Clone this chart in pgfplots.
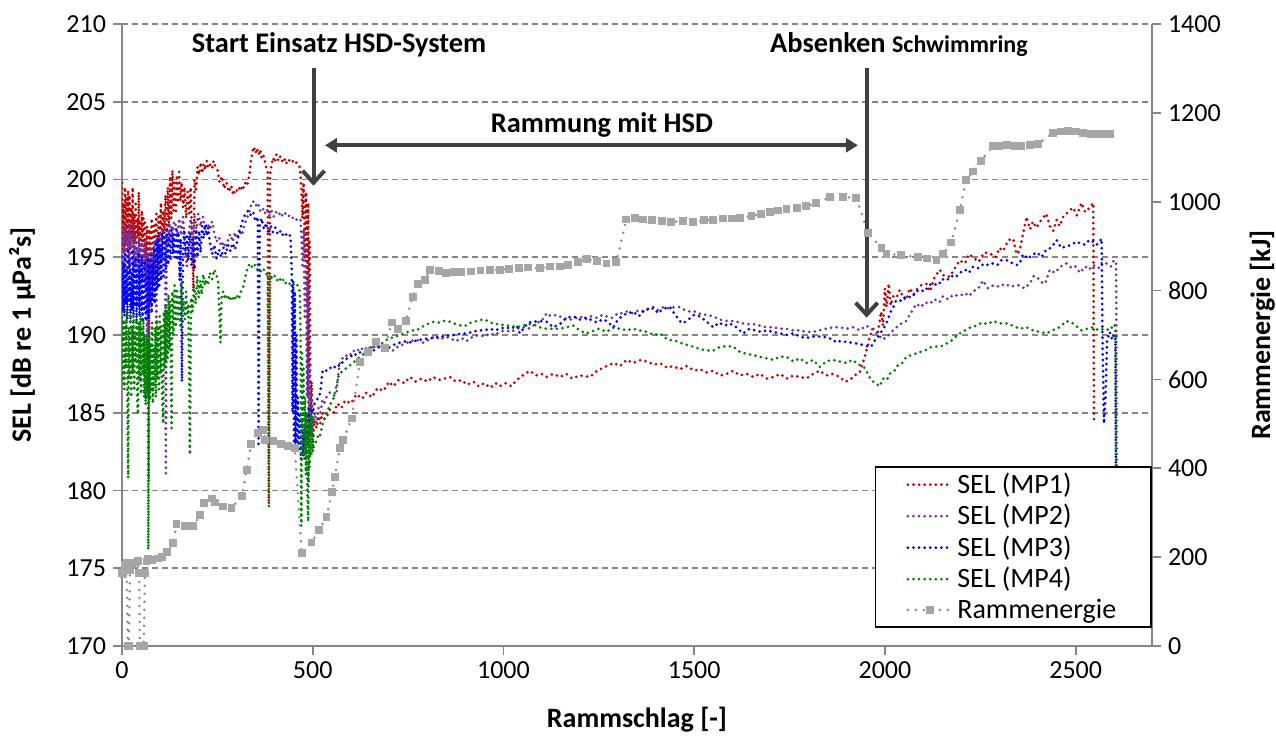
\documentclass[border=0pt]{standalone}
\usepackage{fontspec}
\setmainfont{Carlito}
\usepackage{pgfplots}
\pgfplotsset{compat=1.18}
\usetikzlibrary{arrows.meta}

\definecolor{mpred}{RGB}{192,0,0}
\definecolor{mppurple}{RGB}{112,48,160}
\definecolor{mpblue}{RGB}{0,0,255}
\definecolor{mpgreen}{RGB}{0,128,0}
\definecolor{egray}{RGB}{140,140,140}
\definecolor{esq}{RGB}{166,166,166}
\definecolor{axgray}{RGB}{134,134,134}
\definecolor{arr}{RGB}{64,64,64}

\tikzset{lab/.style={font=\fontsize{14}{16}\selectfont\bfseries, anchor=center}}

\pgfplotsset{
  sel/.style={line width=1.5pt, dash pattern=on 0pt off 2.8pt, line cap=round, no markers},
  energie/.style={draw=egray, line width=1.4pt, dash pattern=on 0pt off 4pt, line cap=round,
    mark=square*, mark size=1.25pt, mark options={solid, draw=esq, fill=esq}},
  common/.style={
    at={(0,0)}, anchor=south west,
    scale only axis, width=515pt, height=311pt,
    xmin=0, xmax=2700,
    axis line style={draw=axgray, line width=0.9pt},
    tick style={draw=axgray, line width=0.9pt},
    major tick length=4.5pt, tick align=outside,
    tick label style={font=\fontsize{13}{15}\selectfont},
    /pgf/number format/assume math mode=true,
    /pgf/number format/1000 sep={},
  },
}

\begin{document}
\begin{tikzpicture}

% left axis: SEL
\begin{axis}[common, name=main,
  ymin=170, ymax=210,
  xtick={0,500,...,2500}, ytick={170,175,...,210},
  axis x line*=bottom, axis y line*=left,
  ymajorgrids, grid style={draw=axgray, line width=0.8pt, dash pattern=on 3pt off 2pt},
  xlabel={Rammschlag [-]}, ylabel={SEL [dB re 1 µPa²s]},
  every axis x label/.style={lab, at={(axis description cs:0.5,-0.119)}},
  every axis y label/.style={lab, at={(axis description cs:-0.097,0.5)}, rotate=90},
]

% MP1
\addplot[sel, mpred] coordinates {
(0,199.8)(2,195.5)(4,198.5)(6,195.2)(8,199.5)(10,196)(12,198.8)(14,195.3)(16,199.3)(18,196.5)(20,199)(22,195.5)
(24,198.2)(26,196.2)(28,199.5)(30,195.6)(32,197.8)(34,196)(36,198.6)(38,195.2)(40,197.5)(42,196.3)(44,199.2)
(46,195.8)(48,197.2)(50,195.4)(52,198)(54,196)(56,197.5)(58,195.2)(60,197.4)(63,194.8)(66,197)(69,195)(70,186)
(72,196.8)(75,194.6)(78,197.5)(81,195.2)(84,197.2)(87,195.8)(90,197.8)(93,195)(96,197.6)(99,196)(102,198.5)
(105,195.5)(108,198)(111,196.5)(114,199)(117,196)(120,199.5)(123,197)(126,200.2)(129,197.5)(132,200.6)(135,198)
(138,199.8)(141,197.8)(144,200.3)(147,198.5)(150,200.5)(153,198.6)(156,199.8)(160,198.2)(164,199.5)(168,197.5)
(172,199.2)(176,197.8)(180,199.5)(184,196)(187,192.8)(190,200)(194,199.2)(198,200.8)(202,200.3)(206,201.1)
(210,200.4)(214,201)(218,200.6)(222,201.2)(226,200.8)(230,201)(236,200.7)(240,201.2)(244,200.9)(250,200.6)
(256,199.8)(262,200.2)(268,199.4)(274,199.8)(280,199.2)(286,199.6)(292,199.0)(298,199.4)(304,199.2)(310,199.6)
(316,199.3)(322,199.8)(328,199.6)(334,200.3)(338,201.2)(342,201.8)(346,202.1)(350,201.7)(354,202.0)(358,201.6)
(362,201.9)(366,201.4)(370,201.6)(374,201.2)(378,200.8)(382,200.5)(385,179.2)(388,200.2)(392,201.0)(396,201.4)
(400,201.1)(405,201.6)(410,201.2)(415,201.5)(420,201.2)(425,201.4)(430,201.0)(435,201.3)(440,201.2)(445,201.3)
(450,201.1)(455,201.2)(460,200.9)(466,200.8)(470,199.5)(473,197.5)(476,199.8)(479,195)(482,199.2)(485,192)
(488,198.5)(490,188)(492,196)(494,184)(497,187)(500,182.5)(504,184.5)(510,184.0)(515,184.8)(520,184.3)(525,185.0)
(530,184.6)(536,184.7)(545,185.2)(555,185.0)(565,185.6)(575,185.3)(585,185.8)(600,185.6)(615,186.2)(630,185.9)
(641,186.3)(655,186.0)(670,186.6)(685,186.4)(700,187.0)(711,186.7)(725,187.1)(740,186.9)(755,187.3)(770,187.0)
(785,187.2)(800,187.0)(816,187.3)(830,187.1)(845,187.2)(860,187.3)(875,187.0)(890,187.1)(905,186.8)(921,187.0)
(935,186.7)(950,186.9)(965,186.6)(980,186.9)(990,186.7)(1005,186.9)(1020,186.7)(1035,187.1)(1050,187.4)
(1069,187.7)(1085,187.4)(1100,187.5)(1113,187.3)(1130,187.5)(1148,187.3)(1165,187.5)(1180,187.2)(1200,187.4)
(1227,187.3)(1245,187.7)(1270,188.0)(1290,188.2)(1305,188.0)(1323,188.4)(1340,188.2)(1360,188.4)(1375,188.3)
(1395,188.1)(1410,188.2)(1428,187.9)(1445,188.0)(1462,187.8)(1480,188.0)(1500,187.7)(1515,187.8)(1532,187.6)
(1550,187.7)(1568,187.4)(1585,187.5)(1602,187.7)(1620,187.4)(1637,187.5)(1655,187.3)(1672,187.5)(1690,187.2)
(1707,187.3)(1725,187.5)(1742,187.2)(1760,187.4)(1777,187.3)(1794,187.2)(1812,187.5)(1829,187.7)(1846,187.4)
(1864,187.5)(1881,187.3)(1895,187.0)(1908,187.1)(1920,187.4)(1934,187.6)(1947,188.6)(1955,189.3)(1960,189.9)
(1970,190.4)(1982,190.2)(1990,191.5)(1995,190.6)(2000,193.0)(2004,191.8)(2010,193.3)(2015,191.9)(2022,192.5)
(2030,192.4)(2039,192.9)(2048,192.4)(2056,192.25)(2065,193.0)(2075,192.6)(2082,192.9)(2095,193.2)(2108,193.3)
(2118,192.8)(2128,193.6)(2143,194.2)(2155,193.8)(2170,193.75)(2183,194.3)(2196,194.8)(2210,194.6)(2220,195.2)
(2231,195.0)(2245,194.7)(2260,195.3)(2275,195.25)(2290,195.0)(2300,195.6)(2310,195.4)(2323,196.1)(2336,196.2)
(2345,195.2)(2353,195.4)(2362,196.5)(2371,197.6)(2380,196.8)(2388,197.3)(2397,196.9)(2410,197.4)(2423,197.8)
(2432,197.0)(2441,196.7)(2450,197.4)(2458,197.0)(2467,197.6)(2480,197.9)(2493,198.2)(2503,197.7)(2515,198.5)
(2525,197.9)(2537,198.2)(2546,198.5)(2548,184.5)
};

% MP2
\addplot[sel, mppurple] coordinates {
(0,196.5)(2,194.5)(4,196.8)(6,194.2)(8,197)(10,194.8)(12,196.2)(14,193.8)(16,196.6)(18,194.5)(20,197.2)(22,194.2)
(24,196)(26,194.6)(28,196.8)(30,194)(32,195.8)(34,194.4)(36,196.5)(38,193.8)(40,195.5)(42,194.6)(44,196.2)(46,194)
(48,195.8)(50,194.5)(52,196)(54,193.5)(56,195.6)(58,194.2)(60,195.9)(62,193)(64,195.4)(66,186)(68,195.2)(70,180.6)
(72,194.8)(74,192)(76,195.6)(78,193.2)(80,195)(82,194)(84,196)(86,193.5)(88,195.2)(90,189)(92,195.5)(96,195.8)
(98,194)(100,196.5)(103,194.8)(106,196.8)(110,196.8)(113,195.2)(115,181.1)(117,196.5)(121,195.8)(124,197.2)
(127,196)(130,197)(133,195.8)(136,197.3)(140,197.2)(145,196.3)(150,197.5)(155,196.4)(160,197.6)(165,195.8)
(170,194.4)(175,196.5)(180,197.5)(185,196.2)(190,197.6)(195,196.8)(200,197.8)(206,197.0)(212,197.6)(218,196.8)
(224,197.2)(230,196.8)(236,197.3)(242,196.5)(248,196.0)(254,196.3)(260,195.7)(266,196.0)(272,195.6)(278,196.1)
(284,196.5)(290,196.0)(296,196.6)(302,196.2)(308,196.8)(314,196.4)(320,197.0)(326,197.4)(332,197.8)(338,198.3)
(344,198.6)(350,198.3)(356,198.5)(362,198.0)(368,198.2)(374,197.8)(380,198.1)(386,197.7)(392,198.0)(398,197.6)
(404,197.9)(410,197.7)(416,197.9)(422,197.6)(428,197.8)(434,197.6)(440,197.7)(446,197.5)(452,197.6)(458,197.4)
(464,197.5)(468,197.4)(470,196.5)(473,194.5)(476,196.8)(479,191)(482,195.5)(485,186)(487,193.5)(489,180.5)
(491,188)(494,183.5)(497,186.5)(500,183.9)(505,185.0)(510,184.3)(515,185.3)(520,185.0)(525,185.8)(530,185.6)
(536,186.0)(545,186.3)(555,186.1)(562,186.2)(567,187.5)(571,188.2)(575,188.4)(585,188.7)(595,188.6)(605,189.0)
(615,188.9)(624,189.2)(635,189.0)(645,189.3)(655,189.1)(665,189.3)(676,189.2)(690,189.0)(700,189.2)(711,189.0)
(725,189.3)(740,189.4)(755,189.6)(772,189.7)(790,189.5)(805,189.7)(820,189.9)(835,189.7)(848,189.9)(860,189.8)
(875,189.6)(890,189.8)(903,189.6)(920,189.9)(935,190.0)(950,189.9)(965,190.1)(978,190.0)(990,190.2)(1005,190.3)
(1020,190.2)(1035,190.4)(1050,190.5)(1065,190.4)(1078,190.6)(1090,190.8)(1100,190.9)(1113,191.4)(1125,191.2)
(1140,191.3)(1155,191.1)(1170,191.0)(1183,191.0)(1200,191.2)(1215,191.0)(1230,191.2)(1245,191.1)(1260,191.3)
(1270,191.2)(1285,191.1)(1300,191.4)(1310,191.4)(1323,191.5)(1340,191.4)(1355,191.6)(1370,191.5)(1380,191.7)
(1392,191.7)(1405,191.6)(1420,191.8)(1435,191.7)(1450,191.8)(1462,191.8)(1475,191.6)(1490,191.5)(1505,191.5)
(1520,191.3)(1532,191.3)(1550,191.2)(1565,191.0)(1585,190.9)(1602,190.9)(1620,190.8)(1637,190.7)(1655,190.7)
(1672,190.6)(1690,190.5)(1707,190.5)(1725,190.4)(1742,190.4)(1760,190.3)(1777,190.3)(1794,190.2)(1812,190.2)
(1829,190.3)(1846,190.4)(1864,190.5)(1881,190.5)(1899,190.4)(1917,190.5)(1934,190.3)(1950,190.6)(1960,190.5)
(1975,190.2)(1995,189.7)(2010,190.0)(2021,190.3)(2035,190.6)(2047,190.8)(2056,190.9)(2065,191.3)(2075,191.7)
(2082,192.0)(2095,191.8)(2105,192.1)(2117,192.0)(2130,192.3)(2143,192.1)(2152,192.5)(2165,192.3)(2180,192.6)
(2196,192.5)(2210,192.7)(2220,192.5)(2231,192.8)(2245,193.0)(2257,193.5)(2270,193.0)(2285,193.2)(2301,193.1)
(2315,193.3)(2330,193.1)(2345,193.2)(2353,193.2)(2365,193.0)(2380,193.3)(2390,193.8)(2397,193.75)(2410,193.4)
(2420,193.3)(2432,194.2)(2445,194.0)(2460,194.4)(2476,194.6)(2490,194.3)(2500,194.4)(2511,194.0)(2525,194.4)
(2535,194.2)(2546,194.5)(2560,194.3)(2570,194.7)(2580,194.6)(2592,194.4)(2600,194.8)(2606,194.7)(2608,178)
};

% MP3
\addplot[sel, mpblue] coordinates {
(0,195)(2,191.5)(4,194.6)(6,191.2)(8,195.2)(10,192)(12,194.2)(14,191)(16,195.4)(18,192.2)(20,194.8)(22,190.8)
(24,194)(26,191.6)(28,195.5)(30,191.3)(32,194.5)(34,192)(36,195)(38,190.9)(40,194.2)(42,191.8)(44,195.3)(46,191.2)
(48,194.5)(50,191.6)(52,195.1)(54,190.8)(56,194)(58,191.5)(60,194.8)(62,190.9)(64,193.8)(66,191.5)(68,195)(70,191)
(72,194.5)(74,192)(76,195.3)(78,191.4)(80,194.6)(82,192.2)(84,195.6)(86,192)(88,196)(90,192.8)(92,196.2)(94,193)
(96,196.4)(98,193.2)(100,195.8)(103,193.5)(106,196.6)(109,193.8)(112,196.3)(115,194.2)(118,196.8)(121,194.5)
(124,196.5)(127,194.8)(130,196.9)(133,195.2)(136,196.5)(139,195.0)(142,196.8)(145,194.8)(148,196.6)(151,193.5)
(154,196.2)(157,187.0)(160,195.5)(163,196.8)(166,195.2)(170,196.5)(174,194.8)(178,196.6)(182,194.5)(186,196.2)
(190,194.2)(194,196.8)(198,195.0)(202,196.7)(206,195.3)(210,197.0)(214,196.2)(218,197.1)(222,196.4)(226,196.9)
(230,196.0)(236,195.2)(242,195.8)(248,194.9)(254,195.5)(260,195.0)(266,195.6)(272,195.2)(278,195.8)(284,195.4)
(290,195.9)(296,195.5)(302,196.0)(308,196.6)(314,197.2)(320,197.6)(326,197.9)(332,198.0)(338,197.7)(344,197.9)
(350,197.3)(356,197.6)(358,183.0)(361,197.0)(366,197.5)(372,196.8)(378,197.2)(384,196.5)(390,197.0)(396,196.6)
(402,196.9)(408,196.5)(414,196.7)(420,196.4)(426,196.6)(432,196.4)(438,196.5)(442,196.3)(445,194)(447,185)
(449,193.5)(451,183)(453,192.8)(455,182.5)(457,190)(459,183)(461,186)(463,182.5)(466,185)(469,182)(472,184.5)
(475,182.2)(478,184)(481,182.5)(484,185)(487,183)(490,185.4)(493,184.0)(496,185.2)(500,185.0)(505,185.6)
(510,185.8)(515,186.0)(520,186.3)(525,187.6)(530,187.8)(536,187.7)(545,187.9)(553,187.8)(562,188.1)(571,188.0)
(580,188.3)(590,188.5)(600,188.6)(606,188.8)(615,188.7)(625,188.9)(635,188.8)(645,189.1)(659,189.0)(670,189.2)
(685,189.3)(700,189.2)(715,189.4)(728,189.5)(745,189.6)(760,189.5)(775,189.7)(790,189.7)(803,189.8)(816,189.8)
(830,189.9)(845,189.9)(860,190.0)(875,190.0)(890,190.1)(903,190.1)(920,190.2)(935,190.3)(950,190.3)(965,190.4)
(978,190.3)(990,190.4)(1005,190.5)(1020,190.4)(1035,190.6)(1043,190.1)(1055,190.5)(1065,190.8)(1078,190.85)
(1095,190.9)(1113,190.85)(1130,190.5)(1148,190.7)(1165,191.1)(1183,191.2)(1200,191.0)(1215,191.1)(1227,191.0)
(1245,190.8)(1260,191.0)(1270,190.9)(1288,190.5)(1300,191.0)(1315,191.3)(1340,191.5)(1355,191.2)(1370,191.6)
(1392,191.8)(1405,191.4)(1420,191.7)(1436,191.8)(1450,191.3)(1462,190.9)(1471,190.75)(1485,191.0)(1500,191.3)
(1515,191.2)(1530,190.9)(1550,190.5)(1565,190.8)(1580,190.6)(1593,190.75)(1610,190.5)(1628,190.1)(1645,190.4)
(1660,190.3)(1675,190.2)(1690,190.3)(1707,190.2)(1725,190.1)(1742,190.0)(1760,190.1)(1777,189.9)(1794,189.8)
(1810,189.9)(1829,189.9)(1846,189.85)(1864,189.7)(1873,189.5)(1881,189.6)(1900,189.55)(1917,189.5)(1935,189.4)
(1950,189.3)(1964,189.25)(1972,189.6)(1982,189.9)(1993,190.3)(2004,190.75)(2015,191.5)(2022,191.8)(2030,192.25)
(2043,192.2)(2056,192.5)(2070,192.4)(2082,192.8)(2091,192.9)(2105,192.8)(2115,193.2)(2126,193.3)(2140,193.2)
(2150,193.6)(2161,193.5)(2175,193.8)(2185,193.7)(2196,194.0)(2210,194.2)(2220,194.0)(2231,194.4)(2245,194.3)
(2260,194.6)(2270,194.5)(2283,194.6)(2295,194.5)(2305,194.8)(2322,194.8)(2335,194.6)(2345,194.5)(2353,194.6)
(2362,195.2)(2375,194.9)(2388,195.2)(2400,195.3)(2410,195.0)(2423,195.5)(2435,195.6)(2450,196.1)(2462,195.6)
(2476,195.7)(2490,195.8)(2500,196.0)(2511,195.9)(2525,195.8)(2535,196.1)(2546,196.0)(2555,195.8)(2568,196.2)
(2570,190)(2574,184.3)(2578,186)(2582,189.6)(2589,190.2)(2596,189.7)(2600,190.0)(2604,189.9)(2606,178)
};

% MP4
\addplot[sel, mpgreen] coordinates {
(0,191.5)(2,187)(4,191)(6,186.5)(8,190.8)(10,188)(12,191.6)(14,186.2)(16,180.8)(18,190.5)(20,187.2)(22,191.2)
(24,186)(26,190.6)(28,187.5)(30,191.4)(32,186.4)(34,190.2)(36,188.2)(38,191)(40,185.6)(42,184.9)(44,190.8)(46,187)
(48,191.3)(50,186.2)(52,190.4)(54,187.6)(56,191)(58,186)(60,190)(62,185.5)(64,189.8)(66,186.3)(68,189.5)(69,176.2)
(71,190.2)(73,185.8)(75,189.5)(77,186.5)(79,190.8)(81,185.6)(83,189.2)(85,186.8)(87,190.5)(89,186)(91,191)
(93,187.2)(95,190.4)(97,186.5)(99,191.2)(101,187.5)(103,190.6)(105,186.2)(108,184.3)(110,191.5)(112,187.8)
(114,192.0)(116,188.2)(118,191.6)(120,188.5)(122,192.6)(124,189.0)(126,192.2)(128,188.5)(130,184.0)(132,192.8)
(135,190.0)(138,193.2)(141,190.5)(144,193.0)(147,191.0)(150,192.6)(153,190.6)(156,193.4)(159,191.2)(162,192.2)
(165,191.0)(168,192.8)(171,191.4)(174,192.0)(178,182.3)(181,192.4)(185,191.5)(189,193.2)(193,192.0)(197,193.8)
(201,192.4)(205,193.5)(209,192.6)(213,193.9)(217,193.2)(221,193.6)(225,193.2)(230,194.0)(236,193.6)(242,194.2)
(248,193.8)(252,193.4)(256,191.0)(258,189.5)(261,192.5)(265,192.8)(270,192.3)(276,192.6)(282,192.2)(288,192.5)
(294,192.2)(300,192.6)(306,192.3)(312,192.8)(318,193.1)(324,193.8)(330,194.4)(336,194.6)(342,194.3)(348,194.5)
(354,194.2)(360,194.3)(366,194.0)(372,194.2)(378,193.9)(382,194.0)(385,179.0)(388,193.9)(394,193.6)(400,193.8)
(406,193.5)(412,193.7)(418,193.4)(424,193.6)(430,193.3)(436,193.4)(442,193.2)(448,193.3)(454,193.1)(460,193.2)
(466,192.8)(468,190)(470,177.7)(472,189)(474,184)(476,188)(478,182)(480,186)(482,181)(484,185)(486,180)(488,178.0)
(490,184.5)(492,181.5)(494,185)(496,182.2)(498,184.8)(500,182.5)(505,183.0)(510,183.2)(515,183.6)(519,183.5)
(525,184.2)(530,184.5)(535,185.0)(540,185.2)(545,185.5)(553,185.8)(560,186.5)(566,187.2)(570,187.5)(580,187.7)
(590,187.9)(600,188.1)(610,188.3)(624,188.6)(635,188.8)(645,189.0)(655,189.2)(665,189.3)(675,189.4)(685,189.5)
(695,189.7)(705,189.8)(717,189.9)(728,190.0)(740,190.1)(750,190.2)(760,190.3)(772,190.3)(785,190.5)(800,190.7)
(816,190.85)(830,190.8)(845,190.9)(860,190.85)(875,190.7)(890,190.6)(903,190.6)(915,190.8)(930,190.9)(947,191.0)
(960,190.9)(975,190.7)(990,190.7)(1005,190.6)(1020,190.6)(1035,190.5)(1050,190.6)(1065,190.7)(1078,190.7)
(1095,190.5)(1113,190.4)(1130,190.4)(1148,190.4)(1165,190.5)(1183,190.6)(1200,190.3)(1215,190.1)(1230,190.2)
(1250,190.4)(1270,190.2)(1290,190.5)(1305,190.4)(1323,190.3)(1340,190.4)(1355,190.3)(1375,190.2)(1395,190.0)
(1410,190.1)(1430,189.7)(1453,189.6)(1475,189.4)(1497,189.25)(1515,189.1)(1532,189.0)(1550,189.0)(1565,189.2)
(1585,189.3)(1602,189.25)(1620,188.9)(1637,188.8)(1655,188.7)(1672,188.6)(1690,188.5)(1707,188.4)(1725,188.6)
(1742,188.6)(1760,188.3)(1777,188.5)(1794,188.2)(1812,188.4)(1829,187.95)(1846,188.3)(1864,188.4)(1881,188.3)
(1899,188.2)(1915,188.4)(1930,188.1)(1943,188.0)(1953,187.6)(1964,187.1)(1975,186.9)(1986,186.7)(1995,187.2)
(2005,187.1)(2012,187.5)(2025,187.7)(2035,188.1)(2045,188.2)(2056,188.6)(2070,188.7)(2080,188.8)(2091,188.9)
(2105,189.0)(2120,189.2)(2135,189.25)(2150,189.3)(2165,189.5)(2178,189.7)(2190,190.0)(2196,190.1)(2210,190.3)
(2225,190.5)(2240,190.6)(2255,190.8)(2270,190.7)(2283,190.9)(2300,190.75)(2318,190.75)(2335,190.6)(2353,190.4)
(2370,190.5)(2388,190.3)(2405,190.2)(2423,190.1)(2440,190.3)(2458,190.5)(2476,190.9)(2490,190.8)(2500,190.6)
(2515,190.3)(2530,190.4)(2546,190.5)(2560,190.3)(2575,190.4)(2590,190.3)(2600,190.7)(2604,190.5)(2606,178)
};
\end{axis}

% right axis: Rammenergie
\begin{axis}[common,
  ymin=0, ymax=1400, ytick={0,200,...,1400},
  axis x line=none, axis y line*=right,
  ylabel={Rammenergie [kJ]},
  every axis y label/.style={lab, at={(axis description cs:1.107,0.5)}, rotate=90},
  legend style={at={(axis description cs:1,0.029)}, anchor=south east, draw=black, line width=0.8pt,
    fill=white, font=\fontsize{14}{16}\selectfont, inner xsep=15.5pt, inner ysep=1pt, row sep=0pt},
  legend cell align=left,
  legend image code/.code={\draw[mark repeat=2, mark phase=2, #1] plot coordinates {(0pt,0pt) (11pt,0pt) (22pt,0pt)};},
]
\addlegendimage{sel, mpred}\addlegendentry{SEL (MP1)}
\addlegendimage{sel, mppurple}\addlegendentry{SEL (MP2)}
\addlegendimage{sel, mpblue}\addlegendentry{SEL (MP3)}
\addlegendimage{sel, mpgreen}\addlegendentry{SEL (MP4)}

\addplot[energie] coordinates {
(0,165)(4,162)(8,183)(12,186)(15,0)(18,0)(21,170)(26,186)(34,188)(41,192)(45,165)(47,0)(57,0)(60,165)(64,190)
(69,197)(80,193)(95,197)(105,200)(117,212)(134,231)(143,275)(165,270)(187,270)(204,295)(216,321)(235,332)
(244,323)(264,314)(287,310)(314,338)(327,396)(338,454)(357,480)(370,486)(375,464)(397,462)(416,455)(436,450)
(453,445)(471,209)(497,233)(516,261)(536,290)(550,347)(558,381)(571,445)(580,464)(602,512)(624,640)(645,662)
(666,685)(689,670)(707,728)(724,713)(744,732)(762,786)(776,815)(794,824)(807,846)(830,844)(850,840)(870,842)
(890,841)(915,843)(940,845)(965,846)(990,847)(1015,849)(1040,850)(1065,852)(1095,850)(1122,854)(1148,854)
(1170,858)(1195,864)(1218,871)(1245,866)(1270,861)(1296,865)(1322,960)(1344,964)(1365,960)(1390,958)(1415,957)
(1440,955)(1470,956)(1497,955)(1525,958)(1550,959)(1575,962)(1600,962)(1620,964)(1650,968)(1675,972)(1698,976)
(1720,980)(1742,983)(1770,986)(1794,990)(1820,997)(1855,1010)(1890,1011)(1925,1008)(1956,929)(1991,895)
(2004,882)(2043,880)(2087,875)(2110,872)(2135,869)(2152,882)(2174,908)(2196,981)(2213,1049)(2231,1068)
(2251,1092)(2283,1126)(2300,1126)(2320,1127)(2340,1126)(2358,1126)(2380,1128)(2401,1130)(2441,1155)(2460,1158)
(2480,1160)(2500,1158)(2519,1155)(2540,1153)(2558,1152)(2575,1152)(2589,1152)
};
\addlegendentry{Rammenergie}

% annotations
\draw[arr, line width=2pt, -{Straight Barb[length=6pt, width=11pt]}] (axis cs:502,1302) -- (axis cs:502,1036);
\draw[arr, line width=2pt, -{Straight Barb[length=6pt, width=11pt]}] (axis cs:1952,1302) -- (axis cs:1952,739);
\draw[arr, line width=1.8pt, {Triangle[length=6pt, width=7pt]}-{Triangle[length=6pt, width=7pt]}]
  (axis cs:532,1127) -- (axis cs:1929,1127);
\node[font=\fontsize{14.2}{16}\selectfont\bfseries] at (axis cs:569,1354) {Start Einsatz HSD-System};
\node[font=\fontsize{14.2}{16}\selectfont\bfseries] at (axis cs:1258,1172) {Rammung mit HSD};
\node[anchor=west, font=\fontsize{14.2}{16}\selectfont\bfseries, inner sep=0pt] at (axis cs:1698,1354)
  {Absenken {\fontsize{12}{14}\selectfont Schwimmring}};
\end{axis}

\pgfresetboundingbox
\useasboundingbox (main.south west) ++(-61pt,-46pt) rectangle ++(638pt,369pt);
\end{tikzpicture}
\end{document}
